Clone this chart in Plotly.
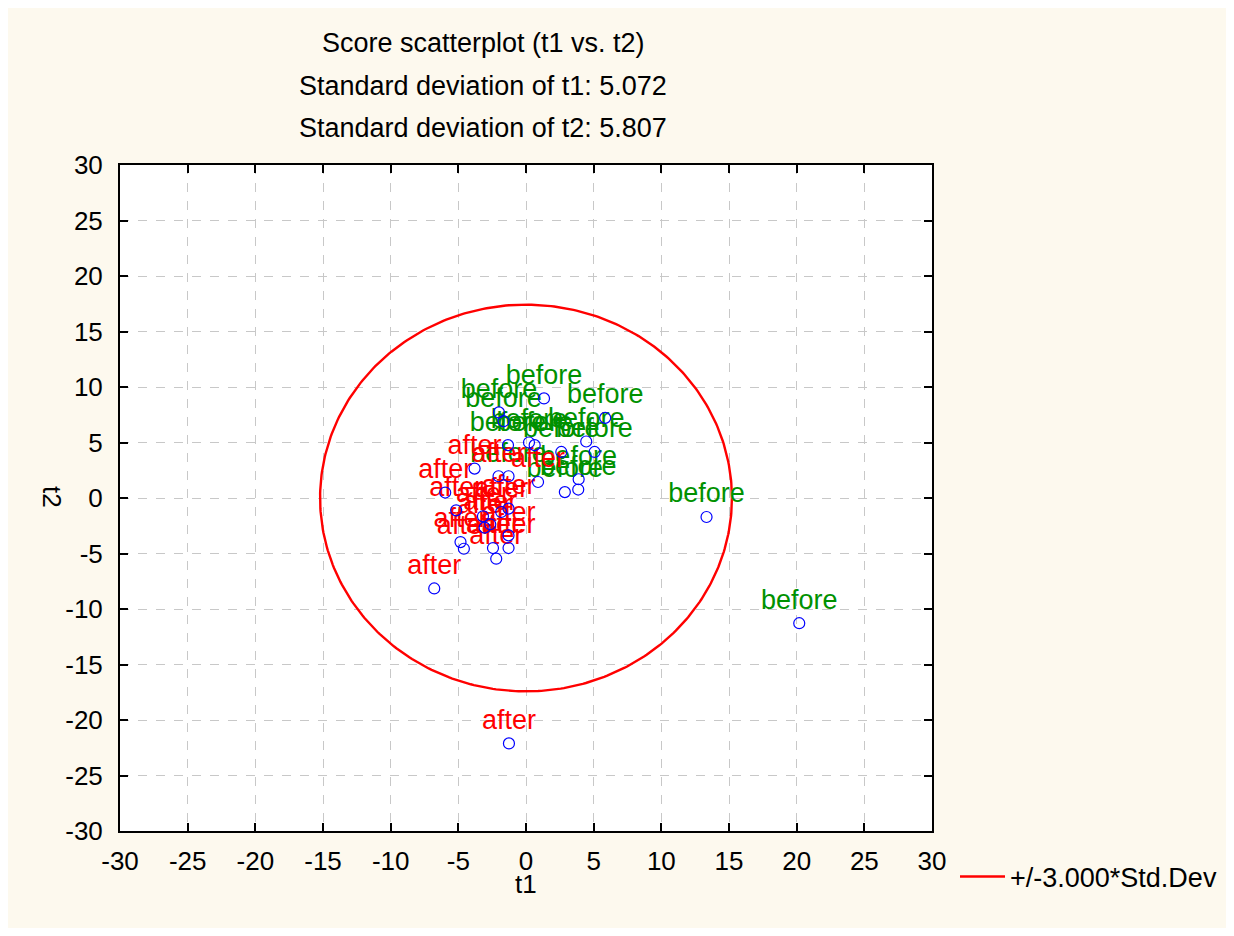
import numpy as np
import plotly.graph_objects as go

# ---- data ----
before_t1 = [1.33, -2.00, -1.66, 5.85, 0.22, 0.64, 4.45, -1.33, 2.61, 5.07,
             -1.29, 3.89, 3.86, 2.87, 13.34, 20.19]
before_t2 = [8.97, 7.71, 6.92, 7.22, 5.00, 4.76, 5.09, 4.76, 4.15, 4.15,
             1.96, 1.69, 0.76, 0.53, -1.71, -11.28]
after_t1 = [-3.80, -2.03, 0.89, -5.97, -5.16, -3.18, -1.83, -1.29, -2.64, -3.06,
            -1.29, -4.84, -4.59, -2.44, -1.29, -2.20, -6.78, -1.26]
after_t2 = [2.65, 1.96, 1.44, 0.49, -1.11, -1.65, -1.26, -0.96, -2.37, -2.67,
            -3.37, -3.97, -4.57, -4.51, -4.51, -5.47, -8.15, -22.11]

sd_t1 = 5.072
sd_t2 = 5.807
k_sd = 3.0

tick_vals = [-30, -25, -20, -15, -10, -5, 0, 5, 10, 15, 20, 25, 30]
tick_text = ["-30", "-25", "-20", "-15", "-10", "-5", "0", "5", "10", "15", "20", "25", "30"]

title_lines = ["Score scatterplot (t1 vs. t2)",
               f"Standard deviation of t1: {sd_t1:.3f}",
               f"Standard deviation of t2: {sd_t2:.3f}"]

FONT = "Arial, Liberation Sans, sans-serif"
GREEN = "rgb(0,145,0)"
RED = "rgb(255,0,0)"
CREAM = "#FDF9EE"

fig = go.Figure()

# confidence ellipse (+/- k * SD)
theta = np.linspace(0, 2 * np.pi, 400)
fig.add_trace(go.Scatter(
    x=k_sd * sd_t1 * np.cos(theta), y=k_sd * sd_t2 * np.sin(theta),
    mode="lines", line=dict(color=RED, width=2.4),
    name=f"+/-{k_sd:.3f}*Std.Dev", showlegend=True, hoverinfo="skip"))

LABEL_SIZE = 27
ghost = dict(size=11, color="rgba(0,0,0,0)", line=dict(width=0))
fig.add_trace(go.Scatter(
    x=before_t1, y=before_t2, mode="markers+text", text=["before"] * len(before_t1),
    marker=ghost, textposition="top center",
    textfont=dict(family=FONT, size=LABEL_SIZE, color=GREEN), showlegend=False))
fig.add_trace(go.Scatter(
    x=after_t1, y=after_t2, mode="markers+text", text=["after"] * len(after_t1),
    marker=ghost, textposition="top center",
    textfont=dict(family=FONT, size=LABEL_SIZE, color=RED), showlegend=False))

# points on top
fig.add_trace(go.Scatter(
    x=before_t1 + after_t1, y=before_t2 + after_t2, mode="markers",
    marker=dict(symbol="circle-open", size=11, color="blue", line=dict(width=1.2, color="blue")),
    showlegend=False))

# page has 8px body margin: figure coords = page coords - 8
OFF = 8
W, H = 1234 - 2 * OFF, 936 - 2 * OFF
ML, MT = 120 - OFF, 165 - OFF
MR = W - (932 - OFF)
MB = H - (831 - OFF)
PW, PH = W - ML - MR, H - MT - MB


def px_x(p):  # page pixel -> paper
    return (p - OFF - ML) / PW


def px_y(p):
    return (H - MB - (p - OFF)) / PH


axis_common = dict(
    range=[-30, 30], tickmode="array", tickvals=tick_vals, ticktext=tick_text,
    showline=True, linecolor="black", linewidth=2, mirror="ticks",
    ticks="inside", ticklen=8, tickwidth=1.5, tickcolor="black",
    showgrid=True, gridcolor="#c8c8c8", griddash="dash", gridwidth=1,
    zeroline=False, automargin=False,
    tickfont=dict(family=FONT, size=26, color="black"),
)

annotations = []
for i, line in enumerate(title_lines):
    annotations.append(dict(
        text=line, x=px_x(483), y=px_y(43 + 42.5 * i), xref="paper", yref="paper",
        xanchor="center", yanchor="middle", showarrow=False,
        font=dict(family=FONT, size=27, color="black")))
annotations.append(dict(
    text="t1", x=px_x(526), y=px_y(884), xref="paper", yref="paper",
    xanchor="center", yanchor="middle", showarrow=False,
    font=dict(family=FONT, size=26, color="black")))
annotations.append(dict(
    text="t2", x=px_x(52), y=px_y(497), xref="paper", yref="paper",
    xanchor="center", yanchor="middle", showarrow=False, textangle=90,
    font=dict(family=FONT, size=26, color="black")))

fig.update_layout(
    width=W, height=H, autosize=False,
    margin=dict(l=ML, r=MR, t=MT, b=MB, autoexpand=False),
    paper_bgcolor=CREAM, plot_bgcolor="white",
    xaxis=dict(axis_common, ticklabelstandoff=6),
    yaxis=dict(axis_common, ticklabelstandoff=10),
    annotations=annotations,
    showlegend=True,
    legend=dict(xref="container", yref="container",
                x=(955 - OFF) / W, y=(H - (877 - OFF)) / H,
                xanchor="left", yanchor="middle",
                bgcolor="rgba(0,0,0,0)", borderwidth=0, itemwidth=45,
                font=dict(family=FONT, size=27, color="black")),
)

fig.write_html("out.html")
